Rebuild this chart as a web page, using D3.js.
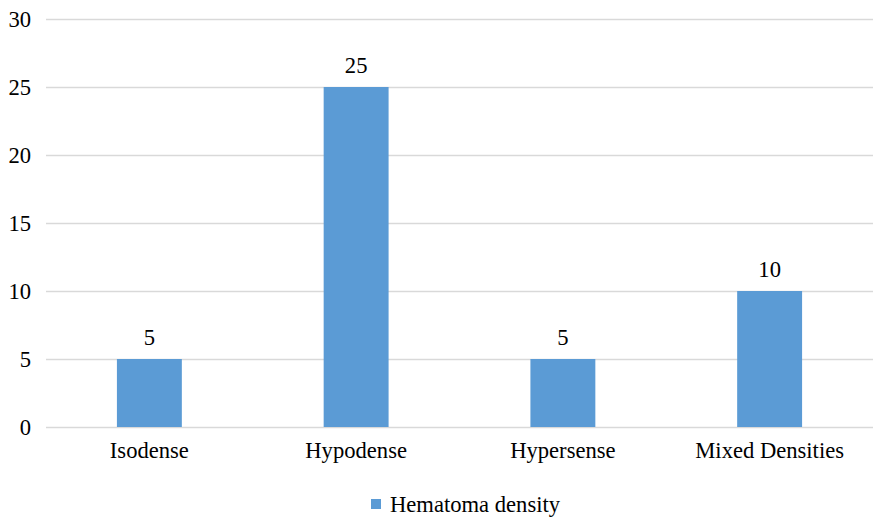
<!DOCTYPE html>
<html><head><meta charset="utf-8">
<script src="https://cdn.jsdelivr.net/npm/d3@7"></script>
<style>body{margin:0;background:#fff}svg{display:block}</style>
</head><body><svg id="c" width="877" height="520"></svg>
<script>
const categories = ["Isodense","Hypodense","Hypersense","Mixed Densities"];
const values = [5,25,5,10];
const seriesName = "Hematoma density";
const yTicks = [0,5,10,15,20,25,30];

const FONT = "'Liberation Serif', 'Times New Roman', serif";
const FS = "22.6px";
const svg = d3.select("#c").style("font-family", FONT);
const m = {l:46, r:4, t:19, b:93};
const W = 877, H = 520;
const x = d3.scaleBand().domain(categories).range([m.l, W-m.r]).paddingInner(0.686).paddingOuter(0.343);
const y = d3.scaleLinear().domain([0,30]).range([H-m.b, m.t]);

const g = svg.append("g");
g.selectAll("line.grid").data(yTicks).join("line")
  .attr("x1", m.l).attr("x2", W-m.r)
  .attr("y1", d=>y(d)+0.5).attr("y2", d=>y(d)+0.5)
  .attr("stroke", "#d9d9d9").attr("stroke-width", 1.3);

const yAxis = d3.axisLeft(y).tickValues(yTicks).tickSize(0).tickPadding(15);
const ya = svg.append("g").attr("transform", `translate(${m.l},0)`).call(yAxis);
ya.attr("font-family", null).attr("font-size", null);
ya.select(".domain").remove();
ya.selectAll("text").style("font-size",FS).style("font-family", FONT).attr("fill","#000");

g.selectAll("rect").data(values).join("rect")
  .attr("x", (d,i)=>x(categories[i]))
  .attr("width", x.bandwidth())
  .attr("y", d=>y(d))
  .attr("height", d=>y(0)-y(d))
  .attr("fill", "#5b9bd5");

g.selectAll("text.val").data(values).join("text")
  .attr("x", (d,i)=>x(categories[i])+x.bandwidth()/2)
  .attr("y", d=>y(d)-14)
  .attr("text-anchor","middle").style("font-size",FS).style("font-family", FONT).text(d=>d);

const xAxis = d3.axisBottom(x).tickSize(0).tickPadding(15);
const xa = svg.append("g").attr("transform", `translate(0,${y(0)})`).call(xAxis);
xa.attr("font-family", null).attr("font-size", null);
xa.select(".domain").remove();
xa.selectAll("text").style("font-size",FS).style("font-family", FONT).attr("fill","#000");

const lg = svg.append("g");
lg.append("rect").attr("x",371).attr("y",499).attr("width",10).attr("height",10).attr("fill","#5b9bd5");
lg.append("text").attr("x",390).attr("y",512).style("font-size",FS).style("font-family", FONT).text(seriesName);
</script></body></html>
